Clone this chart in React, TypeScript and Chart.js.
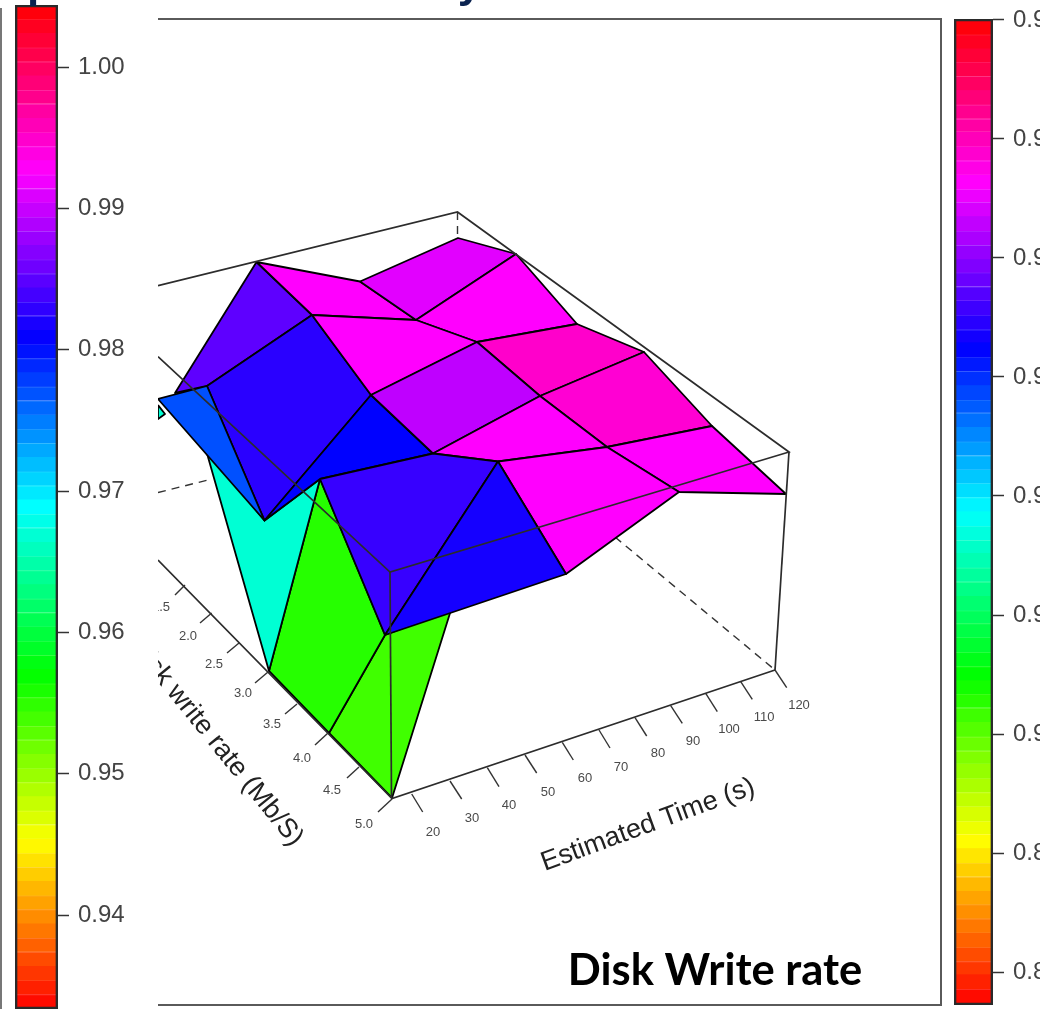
import React, { useEffect, useRef } from "react";
import { Chart, registerables } from "chart.js";

Chart.register(...registerables);

// ---- colour keys -------------------------------------------------------
const leftTicks = [1.0, 0.99, 0.98, 0.97, 0.96, 0.95, 0.94];
const leftEdges = [
  1.0044, 1.0034, 1.0024, 1.0014, 1.0004, 0.9994, 0.9984, 0.9974, 0.9964, 0.9954,
  0.9944, 0.9934, 0.9924, 0.9914, 0.9904, 0.9894, 0.9884, 0.9874, 0.9864, 0.9854,
  0.9844, 0.9834, 0.9824, 0.9814, 0.9804, 0.9794, 0.9784, 0.9774, 0.9764, 0.9754,
  0.9744, 0.9734, 0.9724, 0.9714, 0.9704, 0.9694, 0.9684, 0.9674, 0.9664, 0.9654,
  0.9644, 0.9634, 0.9624, 0.9614, 0.9604, 0.9594, 0.9584, 0.9574, 0.9564, 0.9554,
  0.9544, 0.9534, 0.9524, 0.9514, 0.9504, 0.9494, 0.9484, 0.9474, 0.9464, 0.9454,
  0.9444, 0.9434, 0.9424, 0.9414, 0.9404, 0.9394, 0.9384, 0.9374, 0.9364, 0.9354,
  0.9344, 0.9334,
];
const rightTicks = [0.96, 0.95, 0.94, 0.93, 0.92, 0.91, 0.9, 0.89, 0.88];
const rightEdges = [
  0.96, 0.9588, 0.9576, 0.9565, 0.9553, 0.9541, 0.9529, 0.9517, 0.9506, 0.9494,
  0.9482, 0.947, 0.9458, 0.9447, 0.9435, 0.9423, 0.9411, 0.9399, 0.9388, 0.9376,
  0.9364, 0.9352, 0.934, 0.9329, 0.9317, 0.9305, 0.9293, 0.9281, 0.927, 0.9258,
  0.9246, 0.9234, 0.9222, 0.9211, 0.9199, 0.9187, 0.9175, 0.9163, 0.9152, 0.914,
  0.9128, 0.9116, 0.9104, 0.9093, 0.9081, 0.9069, 0.9057, 0.9045, 0.9034, 0.9022,
  0.901, 0.8998, 0.8986, 0.8975, 0.8963, 0.8951, 0.8939, 0.8927, 0.8916, 0.8904,
  0.8892, 0.888, 0.8868, 0.8857, 0.8845, 0.8833, 0.8821, 0.8809, 0.8798, 0.8786,
  0.8774,
];

// ---- surface facets: projected corners, back to front, and their value --
const cellX = [
  [385, 329, 392, 451],
  [269, 320, 385, 329],
  [206, 269, 320, 264.5],
  [158, 165, 158],
  [256.5, 312, 207, 175],
  [207, 312, 371, 264.5],
  [371, 433, 320, 264.5],
  [158, 207, 264.5],
  [256.5, 360, 416, 312],
  [360, 458, 516, 416],
  [416, 516, 577, 477],
  [312, 416, 477, 371],
  [477, 577, 644, 540],
  [371, 477, 540, 433],
  [540, 644, 712, 607],
  [433, 540, 607, 498],
  [607, 712, 786, 679],
  [498, 607, 679, 566],
  [320, 433, 498, 385],
  [498, 566, 385],
];
const cellY = [
  [635, 733, 798, 610],
  [671, 479, 635, 733],
  [450, 671, 479, 520.5],
  [405, 414, 419],
  [262, 315, 386, 393],
  [386, 315, 395, 520.5],
  [395, 453.5, 479, 520.5],
  [399, 386, 520.5],
  [262, 281.5, 320, 315],
  [281.5, 238, 254, 320],
  [320, 254, 324, 342],
  [315, 320, 342, 395],
  [342, 324, 352, 396],
  [395, 342, 396, 453.5],
  [396, 352, 426, 447],
  [453.5, 396, 447, 461.5],
  [447, 426, 494, 492],
  [461.5, 447, 492, 574],
  [479, 453.5, 461.5, 635],
  [461.5, 574, 635],
];
const cellValue = [
  0.9541, 0.9553, 0.9669, 0.9669, 0.9851, 0.9827, 0.9807, 0.977, 0.9926, 0.9912,
  0.9926, 0.9926, 0.995, 0.9896, 0.9946, 0.9926, 0.9926, 0.9926, 0.9833, 0.9817,
];

// ---- box --------------------------------------------------------------
const boxLinesX = [
  [158, 457.5, 789, 390, 158],
  [390, 391.5],
  [789, 775],
  [158, 392, 775],
];
const boxLinesY = [
  [285.7, 212, 452, 572, 356.7],
  [572, 798],
  [452, 670],
  [560, 798.5, 670],
];
const dashedX = [[457.5, 457.5], [158, 208], [615, 775]];
const dashedY = [[212, 238], [492.5, 480], [537, 670]];
const frameX = [158, 941, 941, 158];
const frameY = [19, 19, 1005, 1005];

// ---- perspective axes ---------------------------------------------------
const rateLabels = ["1.5", "2.0", "2.5", "3.0", "3.5", "4.0", "4.5", "5.0"];
const rateTickStartX = [185, 211.7, 239, 268, 297, 328, 359, 392];
const rateTickStartY = [585, 613, 643, 672, 704, 733, 767, 799];
const rateTickEndX = [175, 200, 227, 255, 285, 315, 347, 378];
const rateTickEndY = [595, 623, 653, 683, 714, 745, 778, 812];
const rateLabelX = [161, 188, 214, 243, 272, 302, 332, 364];
const rateLabelY = [607, 636, 664, 693, 724, 758, 790, 824];

const timeLabels = ["20", "30", "40", "50", "60", "70", "80", "90", "100", "110", "120"];
const timeTickStartX = [411.7, 450, 487.3, 525, 562.3, 599, 635, 670.7, 705.7, 740.7, 775];
const timeTickStartY = [794, 781, 767.7, 755, 742.3, 730, 717.7, 705.7, 693.3, 681.7, 670];
const timeTickEndX = [422.7, 461.7, 499, 536.7, 573.3, 610, 646.7, 682.3, 717.3, 752.3, 786.7];
const timeTickEndY = [812, 799, 786.7, 773, 760, 748, 736, 723.3, 711.7, 699.3, 687.7];
const timeLabelX = [433, 472, 509, 548, 585, 621, 658, 693, 729, 764, 799];
const timeLabelY = [832, 818, 805, 792, 778, 767, 753, 741, 729, 717, 705];

const SANS = '"Liberation Sans", Arial, sans-serif';
const keyMin = 0.9334;
const keyMax = 1.0044;

function hueOf(v: number, lo: number, hi: number) {
  return (360 * (v - lo)) / (hi - lo);
}

function makeKey(canvas: HTMLCanvasElement, edges: number[], ticks: number[], scaleMin: number, scaleMax: number, padding: any, axisWidth: number, extra: any[]) {
  const lo = edges[edges.length - 1];
  const hi = edges[0];
  const bands = edges.slice(0, -1).map((top, i) => {
    const mid = (top + edges[i + 1]) / 2;
    const h = hueOf(mid, lo, hi);
    return {
      data: [[edges[i + 1], top]],
      backgroundColor: `hsl(${h},100%,50%)`,
      borderColor: `hsl(${h},100%,60%)`,
      borderWidth: i % 3 === 2 || i === 0 ? 0 : { top: 1.4, bottom: 0, left: 0, right: 0 },
      borderSkipped: false,
      inflateAmount: 0.4,
    };
  });
  const outline = {
    data: [[scaleMin, scaleMax]],
    backgroundColor: "rgba(0,0,0,0)",
    borderColor: "#2a2a2a",
    borderWidth: 2,
    borderSkipped: false,
  };
  return new Chart(canvas, {
    type: "bar",
    data: { labels: ["key"], datasets: [outline, ...bands] as any },
    plugins: extra,
    options: {
      animation: false,
      responsive: false,
      layout: { padding },
      plugins: { legend: { display: false }, tooltip: { enabled: false } },
      datasets: { bar: { grouped: false, barPercentage: 1, categoryPercentage: 1 } },
      scales: {
        x: { display: false },
        y: {
          position: "right",
          min: scaleMin,
          max: scaleMax,
          border: { display: false },
          grid: { drawOnChartArea: false, drawTicks: true, tickLength: 11, tickColor: "#333", tickWidth: 1.5 },
          ticks: {
            color: "#444",
            padding: 9,
            font: { family: SANS, size: 24 },
            callback: (v: any) => Number(v).toFixed(2),
          },
          afterBuildTicks: (s: any) => {
            s.ticks = ticks.map((value) => ({ value }));
          },
          afterFit: (s: any) => {
            s.width = axisWidth;
            s.paddingTop = 0;
            s.paddingBottom = 0;
          },
        },
      },
    } as any,
  });
}

const pairs = (xs: number[], ys: number[]) => xs.map((x, i) => ({ x, y: ys[i] }));

function line(points: { x: number; y: number }[], color: string, width: number, dash: number[] = []) {
  return {
    data: points,
    showLine: true,
    borderColor: color,
    borderWidth: width,
    borderDash: dash,
    pointRadius: 0,
    fill: false,
    tension: 0,
  };
}

const perspectiveText = {
  id: "perspectiveText",
  afterDatasetsDraw(chart: any) {
    const { ctx, scales } = chart;
    const px = (x: number) => scales.x.getPixelForValue(x);
    const py = (y: number) => scales.y.getPixelForValue(y);
    ctx.save();
    ctx.textAlign = "center";
    ctx.textBaseline = "middle";
    ctx.fillStyle = "#4a4a4a";
    ctx.font = `13px ${SANS}`;
    rateLabels.forEach((t, i) => ctx.fillText(t, px(rateLabelX[i]), py(rateLabelY[i])));
    timeLabels.forEach((t, i) => ctx.fillText(t, px(timeLabelX[i]), py(timeLabelY[i])));
    ctx.fillStyle = "#222";
    ctx.font = `27px ${SANS}`;
    ctx.save();
    ctx.translate(px(648), py(825));
    ctx.rotate((-20.2 * Math.PI) / 180);
    ctx.fillText("Estimated Time (s)", 0, 0);
    ctx.restore();
    ctx.save();
    ctx.translate(px(216), py(742));
    ctx.rotate((51 * Math.PI) / 180);
    ctx.fillText("Disk write rate (Mb/S)", 0, 0);
    ctx.restore();
    ctx.fillStyle = "#000";
    ctx.font = `bold 43.5px Lato, ${SANS}`;
    ctx.fillText("Disk Write rate", px(715), py(971));
    ctx.fillStyle = "#0b2350";
    ctx.font = `bold 44px ${SANS}`;
    ctx.textBaseline = "alphabetic";
    ctx.fillText("y", px(470), py(-3));
    ctx.restore();
  },
};

const headingCut = {
  id: "headingCut",
  afterDraw(chart: any) {
    const { ctx } = chart;
    ctx.save();
    ctx.fillStyle = "#0b2350";
    ctx.font = `bold 44px ${SANS}`;
    ctx.textBaseline = "alphabetic";
    ctx.fillText("p", 27, -3);
    ctx.restore();
  },
};

export default function App() {
  const leftRef = useRef<HTMLCanvasElement>(null);
  const midRef = useRef<HTMLCanvasElement>(null);
  const rightRef = useRef<HTMLCanvasElement>(null);

  useEffect(() => {
    document.body.style.margin = "0";
    document.body.style.background = "#fff";
    const left = makeKey(leftRef.current!, leftEdges, leftTicks, 0.93335, 1.00439, { left: 15, top: 5, right: 0, bottom: 0 }, 100, [headingCut]);
    const right = makeKey(rightRef.current!, rightEdges, rightTicks, 0.87723, 0.96008, { left: 8, top: 19, right: 0, bottom: 4 }, 47, []);

    const back: any[] = [
      ...dashedX.map((xs, i) => line(pairs(xs, dashedY[i]), "#333", 1.4, [8, 6])),
      ...cellX.map((xs, i) => {
        const pts = pairs(xs, cellY[i]);
        const h = hueOf(cellValue[i], keyMin, keyMax);
        return {
          ...line([...pts, pts[0]], "#000", 1.8),
          fill: "shape",
          backgroundColor: `hsl(${h},100%,50%)`,
          borderJoinStyle: "round",
        };
      }),
      ...boxLinesX.map((xs, i) => line(pairs(xs, boxLinesY[i]), "#2c2c2c", 1.7)),
      ...rateTickStartX.map((x, i) => line([{ x, y: rateTickStartY[i] }, { x: rateTickEndX[i], y: rateTickEndY[i] }], "#333", 1.4)),
      ...timeTickStartX.map((x, i) => line([{ x, y: timeTickStartY[i] }, { x: timeTickEndX[i], y: timeTickEndY[i] }], "#333", 1.4)),
      line(pairs(frameX, frameY), "#5a5a5a", 2),
    ];
    const mid = new Chart(midRef.current!, {
      type: "scatter",
      data: { datasets: back.slice().reverse() },
      plugins: [perspectiveText],
      options: {
        animation: false,
        responsive: false,
        layout: { padding: 0 },
        plugins: { legend: { display: false }, tooltip: { enabled: false } },
        scales: {
          x: { type: "linear", display: false, min: 158, max: 946 },
          y: { type: "linear", display: false, min: 0, max: 1009, reverse: true },
        },
      } as any,
    });
    return () => {
      left.destroy();
      right.destroy();
      mid.destroy();
    };
  }, []);

  const abs = (l: number, w: number): React.CSSProperties => ({ position: "absolute", left: l, top: 0, width: w, height: 1009, display: "block" });
  return (
    <div style={{ position: "absolute", left: 0, top: 0, width: 1040, height: 1009, overflow: "hidden", background: "#fff" }}>
      <div style={{ position: "absolute", left: 0, top: 8, width: 1.5, height: 1001, background: "#777" }} />
      <canvas ref={leftRef} width={158} height={1009} style={abs(0, 158)} />
      <canvas ref={midRef} width={788} height={1009} style={abs(158, 788)} />
      <canvas ref={rightRef} width={94} height={1009} style={abs(946, 94)} />
    </div>
  );
}
